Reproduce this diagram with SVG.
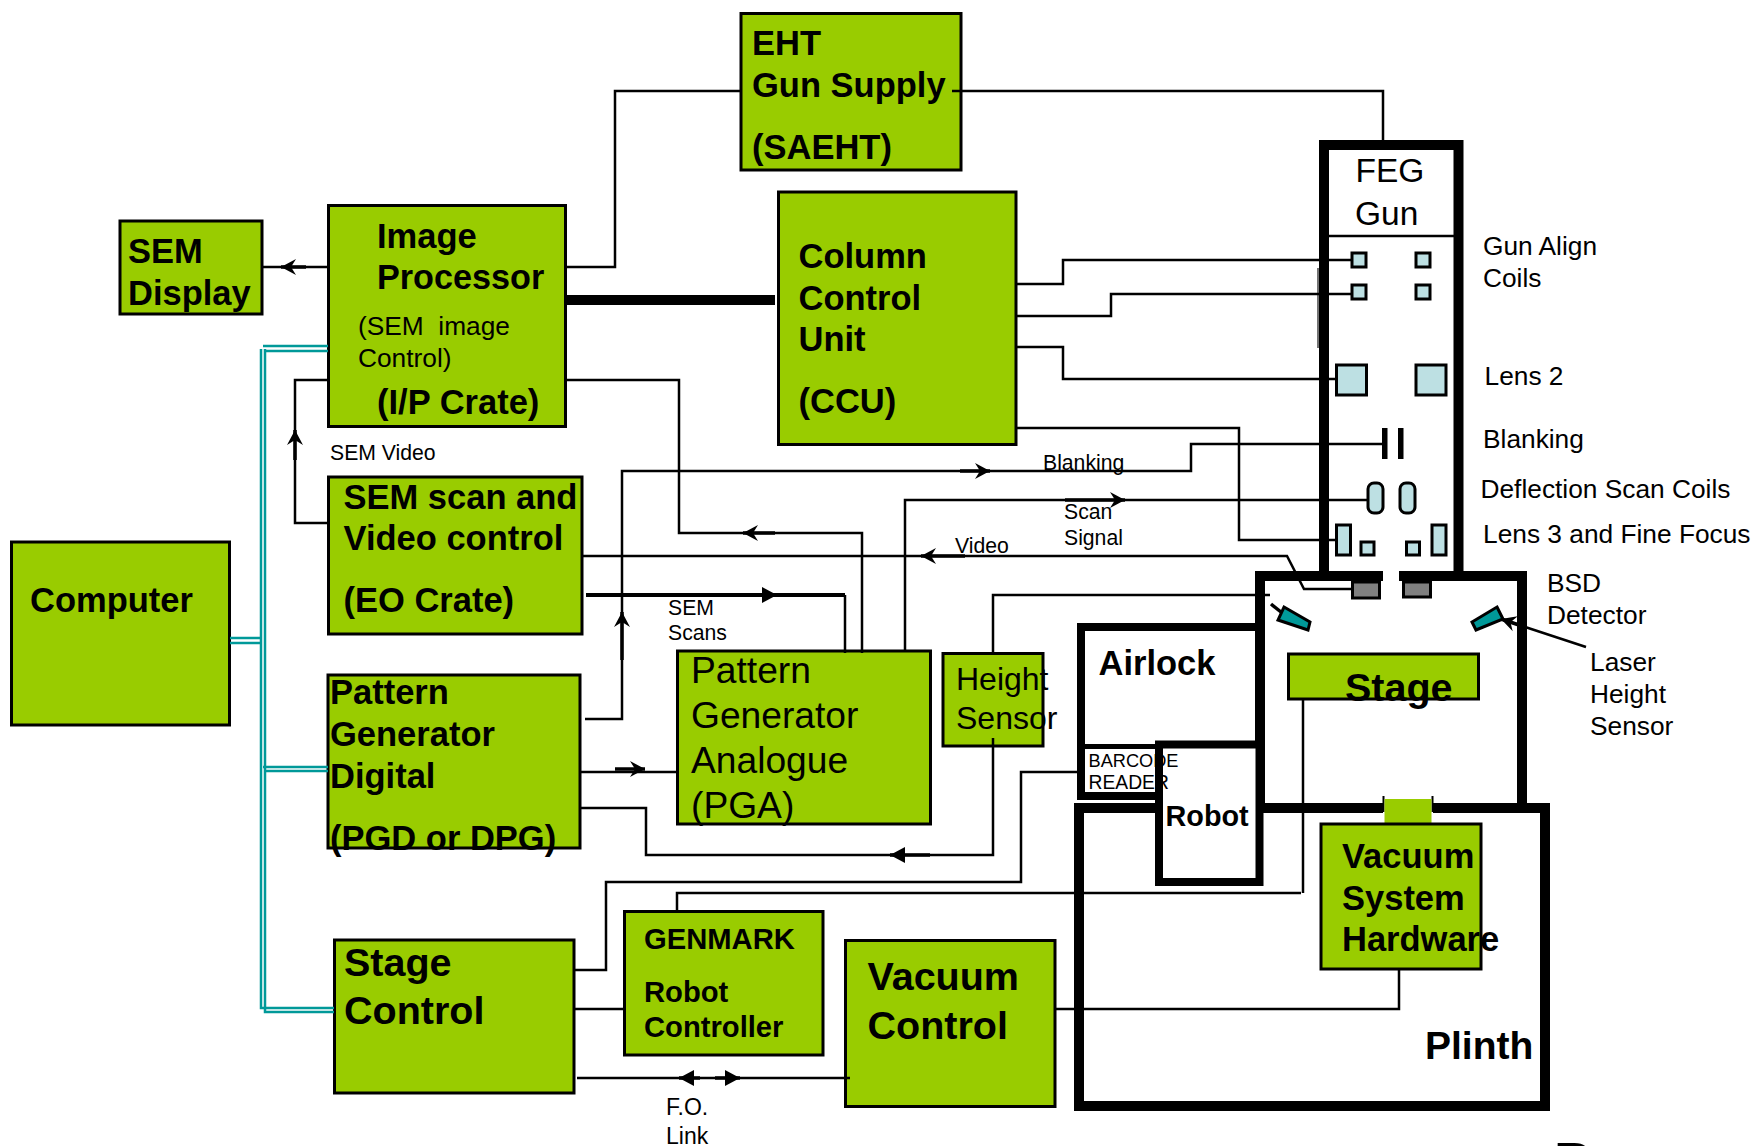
<svg xmlns="http://www.w3.org/2000/svg" width="1756" height="1146" viewBox="0 0 1756 1146">
<style>
text{font-family:"Liberation Sans",Arial,sans-serif;fill:#000}
.b{font-weight:bold}
.box{fill:#99CC00;stroke:#000;stroke-width:3}
.w{fill:none;stroke:#000;stroke-width:10}
.c{fill:none;stroke:#000;stroke-width:2.5}
.t{fill:none;stroke:#009999;stroke-width:2.5}
.coil{fill:#BDE0E3;stroke:#000;stroke-width:3}
.s34{font-size:34.5px}.s39{font-size:39.5px}.s21{font-size:21.2px}.s26{font-size:26.3px}
.ah{fill:none;stroke:#000;stroke-width:3.5}
</style>
<defs>
<marker id="bar" markerUnits="userSpaceOnUse" markerWidth="18" markerHeight="18" refX="15" refY="8" orient="auto" viewBox="0 0 18 16"><path d="M0,0 L15,8 L0,16 L5,8 Z" fill="#000"/></marker>
<marker id="tri" markerUnits="userSpaceOnUse" markerWidth="18" markerHeight="18" refX="15" refY="8" orient="auto" viewBox="0 0 18 16"><path d="M0,0 L15,8 L0,16 Z" fill="#000"/></marker>
</defs>

<g id="feg-column">
<path class="w" d="M1324,576V145H1458.5V576"/>
<path class="c" d="M1329,236H1454"/>
<path d="M1318,268V348" stroke="#444" stroke-width="1.5" fill="none"/>
<text x="1355.5" y="182" font-size="33.5">FEG</text>
<text x="1355" y="225" font-size="33.5">Gun</text>
</g>

<g id="column-elements">
<rect class="coil" x="1352" y="253" width="14" height="14"/>
<rect class="coil" x="1416" y="253" width="14" height="14"/>
<rect class="coil" x="1352" y="285" width="14" height="14"/>
<rect class="coil" x="1416" y="285" width="14" height="14"/>
<rect class="coil" x="1336.5" y="365" width="30" height="30"/>
<rect class="coil" x="1416" y="365" width="30" height="30"/>
<rect x="1382" y="428" width="5.5" height="31"/>
<rect x="1398" y="428" width="5.5" height="31"/>
<rect class="coil" x="1368" y="483" width="15" height="30" rx="6"/>
<rect class="coil" x="1400" y="483" width="15" height="30" rx="6"/>
<rect class="coil" x="1336.5" y="525" width="14" height="30"/>
<rect class="coil" x="1432" y="525" width="14" height="30"/>
<rect class="coil" x="1361" y="542" width="13" height="13"/>
<rect class="coil" x="1406.5" y="542" width="13" height="13"/>
</g>

<g id="chamber">
<path class="w" d="M1383,576H1260V808"/>
<path class="w" d="M1399,576H1522V808"/>
<rect x="1352.5" y="582" width="27" height="16" fill="#808080" stroke="#000" stroke-width="3"/>
<rect x="1403.5" y="582" width="27" height="15" fill="#808080" stroke="#000" stroke-width="3"/>
<path d="M1284,607L1310,622L1308,630L1278,620Z" fill="#009999" stroke="#000" stroke-width="3"/>
<path d="M1497,607L1503,619L1476,630L1472,622Z" fill="#009999" stroke="#000" stroke-width="3"/>
</g>

<g id="plinth">
<path class="w" d="M1383,808H1079V1106H1545V808H1433"/>
<path d="M1383.5,796V812M1432.5,796V812" stroke="#000" stroke-width="2" fill="none"/>
<rect x="1384.5" y="799" width="47" height="25" fill="#99CC00"/>
<text class="b" x="1425" y="1059" font-size="39">Plinth</text>
</g>

<g id="airlock">
<path d="M1255,627H1081V796H1155" fill="none" stroke="#000" stroke-width="8"/>
<path d="M1085,746.5H1155" stroke="#000" stroke-width="5"/>
<text class="b s34" x="1098.5" y="675">Airlock</text>
</g>

<g id="robot">
<rect x="1159" y="744.5" width="100.5" height="137.5" fill="#fff" stroke="#000" stroke-width="8"/>
<text class="b" x="1165.5" y="826" font-size="28.8">Robot</text>
</g>

<g id="barcode-reader">
<text x="1088.5" y="766.5" font-size="18.2">BARCODE</text>
<text x="1088.5" y="788.5" font-size="19.3">READER</text>
</g>

<g id="eht">
<rect class="box" x="741" y="13.5" width="220" height="156.5"/>
<text class="b s34" x="752" y="55">EHT</text>
<text class="b s34" x="752" y="97">Gun Supply</text>
<text class="b s34" x="752" y="158.5">(SAEHT)</text>
</g>
<g id="sem-display">
<rect class="box" x="120" y="221" width="142" height="93"/>
<text class="b s34" x="128" y="263">SEM</text>
<text class="b s34" x="128" y="305">Display</text>
</g>
<g id="image-processor">
<rect class="box" x="328.5" y="205.5" width="237" height="221"/>
<text class="b s34" x="377" y="247.5">Image</text>
<text class="b" x="377" y="289" font-size="34.2">Processor</text>
<text class="s26" x="358" y="335" xml:space="preserve">(SEM  image</text>
<text class="s26" x="358" y="367">Control)</text>
<text class="b s34" x="377" y="414">(I/P Crate)</text>
</g>
<g id="ccu">
<rect class="box" x="778.5" y="192" width="237.5" height="252.5"/>
<text class="b s34" x="798.5" y="268">Column</text>
<text class="b s34" x="798.5" y="309.5">Control</text>
<text class="b s34" x="798.5" y="351">Unit</text>
<text class="b s34" x="798.5" y="413">(CCU)</text>
</g>
<g id="sem-scan">
<rect class="box" x="328.5" y="477" width="253.5" height="157"/>
<text class="b s34" x="343.5" y="508.5">SEM scan and</text>
<text class="b s34" x="343.5" y="549.5">Video control</text>
<text class="b s34" x="343.5" y="612">(EO Crate)</text>
</g>
<g id="computer">
<rect class="box" x="11.5" y="542" width="218" height="183"/>
<text class="b s34" x="30" y="612">Computer</text>
</g>
<g id="pgd">
<rect class="box" x="328" y="675" width="252" height="173"/>
<text class="b s34" x="330" y="704">Pattern</text>
<text class="b s34" x="330" y="745.5">Generator</text>
<text class="b s34" x="330" y="788">Digital</text>
<text class="b s34" x="330" y="850">(PGD or DPG)</text>
</g>
<g id="pga">
<rect class="box" x="677.5" y="651" width="253" height="173"/>
<text x="691" y="683" font-size="37.2">Pattern</text>
<text x="691" y="728" font-size="37.2">Generator</text>
<text x="691" y="773" font-size="37.2">Analogue</text>
<text x="691" y="818" font-size="37.2">(PGA)</text>
</g>
<g id="height-sensor">
<rect class="box" x="943" y="653.5" width="100" height="92.5"/>
<text x="956" y="690" font-size="32">Height</text>
<text x="956" y="729" font-size="32">Sensor</text>
</g>
<g id="stage">
<rect class="box" x="1288.5" y="654" width="190" height="45"/>
<text class="b s39" x="1345" y="700.5">Stage</text>
</g>
<g id="vacuum-system">
<rect class="box" x="1321" y="824" width="160" height="145"/>
<text class="b s34" x="1342" y="868">Vacuum</text>
<text class="b s34" x="1342" y="909.5">System</text>
<text class="b s34" x="1342" y="951">Hardware</text>
</g>
<g id="stage-control">
<rect class="box" x="334.5" y="940" width="239.5" height="153"/>
<text class="b s39" x="344" y="976">Stage</text>
<text class="b s39" x="344" y="1024">Control</text>
</g>
<g id="genmark">
<rect class="box" x="624.5" y="911.5" width="198.5" height="143.5"/>
<text class="b" x="644" y="949" font-size="29.2">GENMARK</text>
<text class="b" x="644" y="1002" font-size="29.2">Robot</text>
<text class="b" x="644" y="1037" font-size="29.2">Controller</text>
</g>
<g id="vacuum-control">
<rect class="box" x="845.5" y="940.5" width="209.5" height="166"/>
<text class="b s39" x="867.5" y="990">Vacuum</text>
<text class="b s39" x="867.5" y="1038.5">Control</text>
</g>

<g id="connectors">
<path class="c" d="M328,267H262"/>
<path class="c" d="M566,267H615V91H740"/>
<path class="c" d="M952,91H1383V142"/>
<path d="M566,300H775" fill="none" stroke="#000" stroke-width="10"/>
<path class="c" d="M1016,284H1063V260H1351"/>
<path class="c" d="M1016,316H1111V294H1351"/>
<path class="c" d="M1016,347H1063V379H1335"/>
<path class="c" d="M1016,428H1239V540H1335"/>
<path class="c" d="M585,719H622V471H1191V444H1385"/>
<path class="c" d="M905,651V500H1368"/>
<path class="c" d="M582,556H1287L1304,589H1353"/>
<path class="c" d="M327,523H295V380H328"/>
<path class="c" d="M566,380H679V533H862V653"/>
<path d="M586,595H845" fill="none" stroke="#000" stroke-width="4"/>
<path class="c" d="M845,595V653"/>
<path class="c" d="M993,652V595H1270"/>
<path class="c" d="M993,738V855H646V808H580"/>
<path class="c" d="M580,772H677"/>
<path class="c" d="M575,970H606V882H1021V772H1079"/>
<path class="c" d="M1303,699V893"/>
<path class="c" d="M677,911V893H1301"/>
<path class="c" d="M575,1009H624"/>
<path class="c" d="M577,1078H850"/>
<path class="c" d="M1055,1009H1399V970"/>
<path class="c" d="M1586,647L1501,619"/>
<path class="ah" d="M1271,604L1281,612"/>
<path class="t" d="M261,349V1008H334"/>
<path class="t" d="M265,349V1012H334"/>
<path class="t" d="M263,346H328"/>
<path class="t" d="M265,351H328"/>
<path class="t" d="M230,638H261"/>
<path class="t" d="M230,643H261"/>
<path class="t" d="M263,767H328"/>
<path class="t" d="M265,771H328"/>
<path class="ah" d="M306,267H281" marker-end="url(#bar)"/>
<path class="ah" d="M295,460V430" marker-end="url(#bar)"/>
<path class="ah" d="M622,660V612" marker-end="url(#bar)"/>
<path class="ah" d="M960,471H990" marker-end="url(#bar)"/>
<path class="ah" d="M1065,500H1125" marker-end="url(#bar)"/>
<path class="ah" d="M965,556H921" marker-end="url(#bar)"/>
<path class="ah" d="M775,533H743" marker-end="url(#bar)"/>
<path class="ah" d="M615,769H645" marker-end="url(#bar)"/>
<path class="ah" d="M750,595H777" marker-end="url(#tri)"/>
<path class="ah" d="M930,855H890" marker-end="url(#tri)"/>
<path class="ah" d="M700,1078H679" marker-end="url(#tri)"/>
<path class="ah" d="M715,1078H740" marker-end="url(#tri)"/>
<path class="ah" d="M1525,627L1501,619" marker-end="url(#bar)"/>
</g>

<g id="labels">
<text class="s21" x="330" y="460">SEM Video</text>
<text class="s21" x="668" y="615">SEM</text>
<text class="s21" x="668" y="640">Scans</text>
<text class="s21" x="1043" y="470">Blanking</text>
<text class="s21" x="1064" y="519">Scan</text>
<text class="s21" x="1064" y="545">Signal</text>
<text class="s21" x="955" y="553">Video</text>
<text x="666" y="1115" font-size="23">F.O.</text>
<text x="666" y="1143.5" font-size="23">Link</text>
<text class="s26" x="1483" y="255">Gun Align</text>
<text class="s26" x="1483" y="287">Coils</text>
<text class="s26" x="1484.5" y="385">Lens 2</text>
<text class="s26" x="1483" y="448">Blanking</text>
<text class="s26" x="1480.5" y="498">Deflection Scan Coils</text>
<text class="s26" x="1483" y="543">Lens 3 and Fine Focus</text>
<text class="s26" x="1547" y="592">BSD</text>
<text class="s26" x="1547" y="624">Detector</text>
<text class="s26" x="1590" y="671">Laser</text>
<text class="s26" x="1590" y="703">Height</text>
<text class="s26" x="1590" y="735">Sensor</text>
<text class="b" x="1554" y="1181" font-size="55">P</text>
</g>
</svg>
